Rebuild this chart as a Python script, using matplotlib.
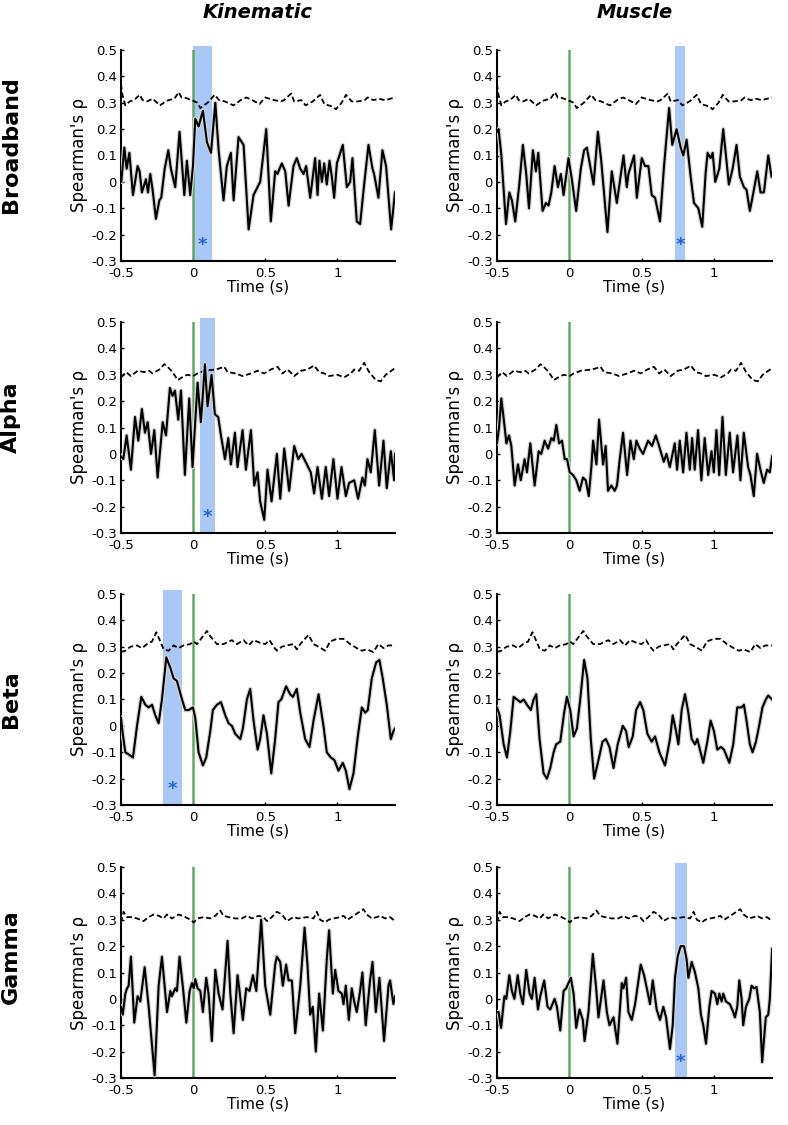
import numpy as np
import matplotlib
matplotlib.use("Agg")
import matplotlib.pyplot as plt

# ---- data ----
# significance-threshold curves, one per band (same for both columns)
bb_thr_t = [-0.50, -0.49, -0.47, -0.44, -0.41, -0.37, -0.35, -0.32, -0.28, -0.25, -0.23, -0.19, -0.17, -0.13,
            -0.10, -0.08, -0.06, -0.01, 0.03, 0.05, 0.10, 0.15, 0.18, 0.22, 0.28, 0.33, 0.37, 0.41, 0.46, 0.50,
            0.56, 0.61, 0.63, 0.68, 0.70, 0.75, 0.78, 0.83, 0.88, 0.91, 0.97, 0.99, 1.03, 1.06, 1.10, 1.14,
            1.19, 1.21, 1.25, 1.29, 1.33, 1.40]
bb_thr_r = [0.37, 0.33, 0.29, 0.305, 0.31, 0.33, 0.31, 0.305, 0.315, 0.30, 0.29, 0.305, 0.31, 0.315,
            0.34, 0.32, 0.32, 0.31, 0.30, 0.28, 0.30, 0.33, 0.31, 0.305, 0.29, 0.31, 0.32, 0.31, 0.295, 0.32,
            0.31, 0.305, 0.31, 0.335, 0.305, 0.31, 0.29, 0.305, 0.33, 0.295, 0.285, 0.275, 0.30, 0.33, 0.305, 0.305,
            0.31, 0.32, 0.31, 0.315, 0.31, 0.32]

al_thr_t = [-0.50, -0.465, -0.431, -0.385, -0.338, -0.304, -0.281, -0.234, -0.20, -0.177, -0.142, -0.107,
            -0.061, -0.038, 0.0, 0.031, 0.077, 0.158, 0.216, 0.239, 0.297, 0.343, 0.401, 0.447, 0.493, 0.539,
            0.585, 0.62, 0.655, 0.701, 0.747, 0.793, 0.839, 0.874, 0.909, 0.943, 1.001, 1.047, 1.094, 1.117,
            1.151, 1.186, 1.221, 1.267, 1.301, 1.336, 1.40]
al_thr_r = [0.29, 0.31, 0.295, 0.315, 0.31, 0.315, 0.305, 0.32, 0.34, 0.33, 0.31, 0.28,
            0.295, 0.30, 0.295, 0.305, 0.315, 0.32, 0.33, 0.31, 0.305, 0.295, 0.305, 0.315, 0.305, 0.32,
            0.33, 0.305, 0.32, 0.295, 0.315, 0.32, 0.335, 0.31, 0.305, 0.295, 0.30, 0.29, 0.305, 0.32,
            0.315, 0.345, 0.31, 0.28, 0.275, 0.30, 0.325]

be_thr_t = [-0.50, -0.47, -0.435, -0.389, -0.355, -0.32, -0.285, -0.255, -0.227, -0.204, -0.170, -0.135,
            -0.10, -0.066, -0.02, 0.004, 0.027, 0.096, 0.119, 0.165, 0.211, 0.269, 0.304, 0.350, 0.385, 0.419,
            0.465, 0.50, 0.53, 0.558, 0.581, 0.615, 0.65, 0.696, 0.719, 0.743, 0.80, 0.835, 0.87, 0.916, 0.95,
            0.997, 1.043, 1.089, 1.135, 1.17, 1.204, 1.25, 1.285, 1.32, 1.355, 1.40]
be_thr_r = [0.28, 0.285, 0.30, 0.305, 0.295, 0.31, 0.32, 0.355, 0.32, 0.29, 0.285, 0.305,
            0.295, 0.305, 0.31, 0.32, 0.31, 0.36, 0.34, 0.31, 0.31, 0.325, 0.31, 0.325, 0.305, 0.325,
            0.315, 0.31, 0.325, 0.30, 0.285, 0.30, 0.305, 0.31, 0.29, 0.31, 0.345, 0.31, 0.30, 0.285, 0.32,
            0.33, 0.33, 0.31, 0.295, 0.285, 0.29, 0.28, 0.31, 0.295, 0.305, 0.305]

ga_thr_t = [-0.50, -0.482, -0.458, -0.424, -0.389, -0.343, -0.308, -0.274, -0.239, -0.204, -0.181, -0.147,
            -0.10, -0.054, -0.018, 0.004, 0.031, 0.073, 0.119, 0.154, 0.188, 0.211, 0.246, 0.292, 0.338, 0.373,
            0.408, 0.454, 0.488, 0.512, 0.546, 0.581, 0.616, 0.65, 0.696, 0.731, 0.789, 0.835, 0.858, 0.881,
            0.916, 0.939, 0.973, 1.02, 1.043, 1.07, 1.112, 1.181, 1.204, 1.239, 1.274, 1.297, 1.331, 1.366, 1.40]
ga_thr_r = [0.29, 0.33, 0.31, 0.31, 0.305, 0.295, 0.31, 0.32, 0.315, 0.305, 0.32, 0.305,
            0.32, 0.31, 0.30, 0.29, 0.305, 0.31, 0.305, 0.315, 0.335, 0.315, 0.31, 0.305, 0.305, 0.315,
            0.305, 0.315, 0.31, 0.295, 0.31, 0.33, 0.32, 0.295, 0.31, 0.305, 0.31, 0.305, 0.33, 0.30,
            0.29, 0.30, 0.305, 0.31, 0.315, 0.30, 0.315, 0.34, 0.32, 0.305, 0.31, 0.315, 0.305, 0.31, 0.295]

# correlation time courses
bb_kin_t = [-0.498, -0.477, -0.461, -0.442, -0.417, -0.385, -0.371, -0.355, -0.327, -0.313, -0.297, -0.281,
            -0.258, -0.234, -0.221, -0.197, -0.172, -0.154, -0.124, -0.094, -0.061, -0.043, -0.020, -0.001,
            0.015, 0.038, 0.068, 0.096, 0.124, 0.154, 0.177, 0.211, 0.234, 0.262, 0.281, 0.315, 0.350, 0.385,
            0.419, 0.465, 0.507, 0.539, 0.569, 0.585, 0.615, 0.639, 0.662, 0.696, 0.719, 0.743, 0.766, 0.784,
            0.812, 0.846, 0.863, 0.876, 0.893, 0.909, 0.927, 0.946, 0.962, 0.978, 0.997, 1.038, 1.066, 1.089,
            1.105, 1.135, 1.158, 1.186, 1.216, 1.244, 1.255, 1.285, 1.313, 1.338, 1.373, 1.40]
bb_kin_r = [0.0, 0.13, 0.05, 0.11, -0.05, 0.06, 0.04, -0.04, 0.01, -0.04, 0.03, -0.03,
            -0.14, -0.07, -0.06, 0.05, 0.12, 0.05, -0.02, 0.19, -0.05, 0.08, -0.05, 0.06,
            0.24, 0.21, 0.27, 0.15, 0.11, 0.30, 0.12, -0.07, 0.06, 0.11, -0.07, 0.17, 0.14, -0.18,
            -0.05, 0.0, 0.20, -0.15, 0.04, 0.03, 0.07, 0.04, -0.09, 0.06, 0.09, 0.05, 0.03, 0.06,
            -0.06, 0.09, -0.05, 0.08, 0.0, 0.07, -0.01, 0.08, 0.02, -0.06, 0.07, 0.14, -0.02, 0.0,
            0.09, -0.15, -0.16, -0.01, 0.14, 0.05, 0.03, -0.06, 0.12, 0.06, -0.18, -0.04]

bb_mus_t = [-0.50, -0.489, -0.470, -0.438, -0.415, -0.397, -0.374, -0.346, -0.321, -0.298, -0.279, -0.252,
            -0.231, -0.215, -0.185, -0.162, -0.144, -0.125, -0.102, -0.079, -0.059, -0.040, -0.006, 0.017,
            0.047, 0.079, 0.102, 0.121, 0.144, 0.167, 0.197, 0.220, 0.236, 0.263, 0.293, 0.328, 0.374, 0.397,
            0.408, 0.447, 0.466, 0.500, 0.523, 0.546, 0.569, 0.592, 0.626, 0.654, 0.689, 0.711, 0.741, 0.769,
            0.787, 0.810, 0.838, 0.861, 0.891, 0.918, 0.941, 0.955, 0.976, 0.990, 1.008, 1.036, 1.063, 1.091,
            1.102, 1.128, 1.155, 1.178, 1.206, 1.224, 1.247, 1.275, 1.298, 1.321, 1.344, 1.374, 1.397]
bb_mus_r = [0.19, 0.20, 0.10, -0.16, -0.04, -0.07, -0.15, -0.01, 0.14, 0.03, -0.10, 0.12,
            0.04, 0.11, -0.11, -0.08, -0.09, -0.04, 0.06, -0.02, 0.03, -0.05, 0.09, 0.01,
            -0.11, 0.05, 0.12, 0.13, 0.06, -0.01, 0.19, 0.08, -0.02, -0.19, 0.04, -0.08, 0.10, -0.02,
            0.03, 0.10, -0.06, 0.09, 0.06, 0.06, -0.05, -0.06, -0.15, 0.06, 0.28, 0.14, 0.20, 0.13,
            0.10, 0.16, 0.02, -0.08, -0.10, -0.17, 0.03, 0.11, 0.09, 0.11, 0.0, 0.05, 0.20, 0.05,
            -0.01, 0.05, 0.14, 0.02, -0.02, -0.03, -0.11, -0.03, 0.04, -0.04, -0.04, 0.10, 0.02]

al_kin_t = [-0.500, -0.484, -0.461, -0.431, -0.403, -0.380, -0.355, -0.334, -0.315, -0.292, -0.269, -0.246,
            -0.211, -0.188, -0.161, -0.142, -0.126, -0.103, -0.084, -0.057, -0.027, -0.004, 0.031, 0.054,
            0.082, 0.100, 0.128, 0.151, 0.174, 0.193, 0.221, 0.244, 0.262, 0.290, 0.308, 0.343, 0.366, 0.401,
            0.424, 0.447, 0.465, 0.493, 0.516, 0.544, 0.581, 0.604, 0.632, 0.666, 0.701, 0.729, 0.752, 0.789,
            0.816, 0.839, 0.863, 0.893, 0.920, 0.943, 0.973, 1.001, 1.029, 1.059, 1.082, 1.117, 1.144, 1.174,
            1.191, 1.209, 1.232, 1.260, 1.290, 1.320, 1.343, 1.371, 1.394, 1.40]
al_kin_r = [-0.01, -0.02, 0.07, -0.06, 0.14, 0.05, 0.17, 0.08, 0.12, 0.0, 0.09, -0.09,
            0.12, 0.07, 0.25, 0.22, 0.24, 0.13, 0.24, -0.08, 0.21, -0.05, 0.27, 0.12,
            0.34, 0.18, 0.30, 0.15, 0.14, 0.07, -0.02, 0.06, -0.04, 0.08, -0.05, 0.09, -0.06, 0.09,
            -0.12, -0.07, -0.18, -0.25, -0.06, -0.18, 0.0, -0.17, 0.02, -0.14, 0.03, -0.02, 0.0, -0.04,
            -0.07, -0.15, -0.05, -0.17, -0.05, -0.16, -0.02, -0.17, -0.05, -0.16, -0.11, -0.10, -0.17, -0.09,
            -0.12, -0.02, -0.07, 0.09, -0.12, 0.05, -0.13, 0.01, -0.10, 0.0]

al_mus_t = [-0.500, -0.486, -0.470, -0.447, -0.435, -0.417, -0.401, -0.378, -0.355, -0.336, -0.309, -0.293,
            -0.270, -0.240, -0.212, -0.194, -0.171, -0.147, -0.124, -0.108, -0.090, -0.071, -0.051, -0.032,
            -0.016, 0.002, 0.025, 0.048, 0.071, 0.094, 0.113, 0.134, 0.152, 0.164, 0.187, 0.205, 0.233, 0.251,
            0.267, 0.290, 0.313, 0.329, 0.348, 0.371, 0.399, 0.422, 0.445, 0.463, 0.486, 0.509, 0.544, 0.571,
            0.597, 0.620, 0.652, 0.671, 0.694, 0.728, 0.744, 0.763, 0.786, 0.809, 0.832, 0.848, 0.866, 0.889,
            0.912, 0.935, 0.959, 0.982, 0.998, 1.016, 1.035, 1.058, 1.081, 1.108, 1.131, 1.161, 1.182, 1.205,
            1.235, 1.251, 1.274, 1.297, 1.320, 1.343, 1.366, 1.385, 1.401]
al_mus_r = [0.04, 0.10, 0.21, 0.10, 0.04, 0.07, 0.03, -0.12, -0.04, -0.10, -0.02, -0.07,
            0.04, -0.12, 0.01, 0.0, 0.05, 0.02, 0.06, 0.05, 0.11, 0.04, 0.05, -0.02,
            -0.02, -0.07, -0.08, -0.10, -0.14, -0.09, -0.10, -0.16, -0.05, 0.05, -0.04, 0.13, -0.04, 0.03,
            -0.14, -0.12, -0.14, -0.12, -0.02, 0.08, -0.08, 0.05, -0.02, 0.05, 0.02, 0.0, 0.05, 0.03,
            0.07, 0.03, -0.03, 0.0, -0.05, 0.04, -0.06, 0.05, -0.07, 0.08, -0.06, 0.06, -0.06, 0.09,
            -0.10, 0.06, -0.08, 0.01, -0.07, 0.09, -0.08, 0.14, -0.08, 0.08, -0.07, 0.07, -0.10, 0.08,
            -0.05, -0.08, -0.16, 0.0, -0.06, -0.11, -0.06, -0.07, -0.01]

be_kin_t = [-0.500, -0.488, -0.470, -0.442, -0.417, -0.389, -0.359, -0.331, -0.308, -0.285, -0.262, -0.239,
            -0.216, -0.186, -0.158, -0.135, -0.112, -0.077, -0.054, -0.031, -0.001, 0.015, 0.038, 0.068,
            0.091, 0.119, 0.137, 0.165, 0.193, 0.223, 0.246, 0.269, 0.292, 0.327, 0.345, 0.373, 0.396, 0.419,
            0.447, 0.465, 0.488, 0.512, 0.542, 0.569, 0.592, 0.611, 0.645, 0.673, 0.692, 0.719, 0.743, 0.777,
            0.807, 0.835, 0.870, 0.904, 0.927, 0.955, 0.980, 1.008, 1.038, 1.059, 1.084, 1.112, 1.142, 1.170,
            1.193, 1.211, 1.239, 1.269, 1.292, 1.315, 1.343, 1.371, 1.389, 1.40]
be_kin_r = [0.03, -0.03, -0.10, -0.11, -0.12, 0.0, 0.11, 0.08, 0.07, 0.08, 0.04, 0.01,
            0.10, 0.26, 0.22, 0.18, 0.17, 0.10, 0.06, 0.06, 0.07, 0.03, -0.10, -0.15,
            -0.12, -0.02, 0.06, 0.08, 0.09, 0.04, 0.01, 0.0, -0.03, -0.05, -0.01, 0.10, 0.14, 0.02,
            -0.09, -0.05, 0.04, -0.03, -0.18, -0.05, 0.09, 0.10, 0.15, 0.12, 0.11, 0.14, 0.05, -0.05,
            -0.08, 0.02, 0.12, 0.0, -0.10, -0.12, -0.13, -0.17, -0.14, -0.17, -0.24, -0.18, -0.04, 0.07,
            0.05, 0.06, 0.18, 0.24, 0.25, 0.18, 0.08, -0.05, -0.02, -0.01]

be_mus_t = [-0.500, -0.482, -0.454, -0.431, -0.408, -0.385, -0.362, -0.339, -0.316, -0.293, -0.266, -0.247,
            -0.229, -0.206, -0.178, -0.155, -0.132, -0.109, -0.091, -0.063, -0.036, -0.017, 0.006, 0.029,
            0.052, 0.075, 0.102, 0.125, 0.148, 0.171, 0.201, 0.229, 0.252, 0.277, 0.305, 0.334, 0.369, 0.392,
            0.410, 0.438, 0.461, 0.489, 0.511, 0.539, 0.569, 0.592, 0.622, 0.661, 0.695, 0.714, 0.737, 0.753,
            0.776, 0.799, 0.822, 0.845, 0.868, 0.884, 0.902, 0.925, 0.953, 0.976, 0.999, 1.022, 1.047, 1.068,
            1.105, 1.132, 1.160, 1.190, 1.206, 1.224, 1.247, 1.266, 1.289, 1.311, 1.334, 1.357, 1.374, 1.401]
be_mus_r = [0.07, 0.04, -0.07, -0.12, -0.02, 0.11, 0.10, 0.09, 0.10, 0.08, 0.06, 0.10,
            0.12, -0.05, -0.18, -0.20, -0.16, -0.10, -0.07, -0.06, 0.05, 0.11, 0.06, -0.04,
            -0.01, 0.10, 0.25, 0.18, -0.05, -0.20, -0.13, -0.06, -0.05, -0.08, -0.16, -0.07, 0.0, -0.02,
            -0.08, -0.04, 0.06, 0.09, 0.06, -0.03, -0.06, -0.04, -0.10, -0.15, -0.05, 0.04, -0.02, -0.07,
            0.06, 0.12, 0.05, -0.05, -0.07, -0.05, -0.09, -0.14, -0.06, 0.02, -0.02, -0.09, -0.08, -0.09,
            -0.14, -0.07, 0.07, 0.07, 0.08, 0.02, -0.07, -0.10, -0.06, 0.0, 0.07, 0.10, 0.115, 0.10]

ga_kin_t = [-0.500, -0.488, -0.470, -0.458, -0.447, -0.431, -0.408, -0.385, -0.366, -0.336, -0.308, -0.267,
            -0.239, -0.216, -0.181, -0.158, -0.147, -0.124, -0.112, -0.094, -0.070, -0.047, -0.024, -0.008,
            0.004, 0.015, 0.031, 0.050, 0.068, 0.091, 0.107, 0.130, 0.154, 0.177, 0.204, 0.239, 0.258, 0.281,
            0.308, 0.322, 0.345, 0.368, 0.391, 0.415, 0.438, 0.472, 0.500, 0.535, 0.569, 0.581, 0.604, 0.622,
            0.645, 0.662, 0.685, 0.708, 0.743, 0.773, 0.793, 0.812, 0.830, 0.851, 0.874, 0.900, 0.927, 0.943,
            0.969, 0.985, 1.008, 1.031, 1.043, 1.059, 1.080, 1.100, 1.117, 1.135, 1.158, 1.174, 1.197, 1.227,
            1.244, 1.267, 1.292, 1.324, 1.355, 1.366, 1.389, 1.401]
ga_kin_r = [-0.03, -0.06, 0.02, 0.04, 0.05, 0.16, -0.09, 0.01, -0.01, 0.12, -0.03, -0.29,
            0.05, 0.16, -0.05, 0.03, 0.01, 0.04, 0.03, 0.16, 0.04, -0.09, 0.03, 0.06,
            0.04, 0.075, 0.04, 0.03, -0.05, 0.08, 0.02, -0.16, 0.11, 0.02, -0.04, 0.22, 0.02, -0.13,
            0.09, 0.03, -0.08, 0.04, 0.03, 0.09, 0.03, 0.30, 0.05, -0.06, 0.13, 0.16, 0.14, 0.05,
            0.13, 0.07, 0.07, -0.13, 0.05, 0.27, 0.13, -0.06, -0.03, -0.20, 0.02, -0.12, 0.15, 0.26,
            0.02, 0.11, 0.03, 0.02, -0.02, 0.05, -0.08, 0.04, -0.01, -0.05, 0.03, 0.10, -0.10, 0.07,
            0.14, -0.05, 0.08, -0.16, 0.05, 0.07, -0.02, 0.01]

ga_mus_t = [-0.500, -0.489, -0.472, -0.449, -0.436, -0.415, -0.397, -0.380, -0.357, -0.339, -0.321, -0.298,
            -0.275, -0.259, -0.240, -0.217, -0.201, -0.174, -0.151, -0.132, -0.102, -0.086, -0.063, -0.040,
            -0.022, 0.010, 0.029, 0.047, 0.070, 0.093, 0.105, 0.132, 0.162, 0.185, 0.201, 0.236, 0.259, 0.277,
            0.305, 0.332, 0.362, 0.374, 0.392, 0.408, 0.431, 0.454, 0.493, 0.516, 0.539, 0.557, 0.576, 0.603,
            0.626, 0.649, 0.668, 0.695, 0.714, 0.730, 0.748, 0.769, 0.792, 0.810, 0.822, 0.845, 0.868, 0.891,
            0.909, 0.925, 0.944, 0.967, 0.983, 1.006, 1.022, 1.036, 1.052, 1.063, 1.082, 1.109, 1.132, 1.144,
            1.160, 1.174, 1.190, 1.201, 1.220, 1.243, 1.259, 1.275, 1.293, 1.316, 1.332, 1.357, 1.374, 1.385,
            1.401]
ga_mus_r = [-0.05, -0.05, -0.11, 0.01, 0.0, 0.09, 0.03, 0.0, 0.09, 0.02, -0.02, 0.11,
            0.02, 0.0, 0.08, -0.04, 0.01, 0.07, -0.03, -0.04, 0.0, -0.03, -0.12, 0.03,
            0.04, 0.08, 0.02, -0.11, -0.04, -0.08, -0.16, -0.05, 0.17, 0.04, -0.07, 0.07, -0.05, -0.10,
            -0.07, -0.17, 0.06, 0.04, 0.08, -0.05, -0.08, -0.02, 0.13, 0.09, 0.03, -0.02, 0.07, -0.04,
            -0.08, -0.03, -0.07, -0.19, -0.10, 0.08, 0.16, 0.20, 0.20, 0.15, 0.08, 0.14, 0.10, 0.04,
            -0.06, -0.10, -0.17, -0.03, 0.03, 0.02, -0.02, 0.02, -0.01, 0.02, -0.01, -0.02, -0.05, -0.07,
            -0.03, 0.07, 0.0, -0.10, -0.03, 0.0, 0.05, 0.04, 0.045, -0.05, -0.24, -0.07, -0.06, 0.0,
            0.19]

bands = ['Broadband', 'Alpha', 'Beta', 'Gamma']
columns = ['Kinematic', 'Muscle']

thresholds = [(bb_thr_t, bb_thr_r), (al_thr_t, al_thr_r), (be_thr_t, be_thr_r), (ga_thr_t, ga_thr_r)]
series = [[(bb_kin_t, bb_kin_r), (bb_mus_t, bb_mus_r)],
          [(al_kin_t, al_kin_r), (al_mus_t, al_mus_r)],
          [(be_kin_t, be_kin_r), (be_mus_t, be_mus_r)],
          [(ga_kin_t, ga_kin_r), (ga_mus_t, ga_mus_r)]]

# significant windows (start, end) per panel, None = no window
sig_windows = [[(0.0, 0.13), (0.73, 0.80)],
               [(0.048, 0.15), None],
               [(-0.21, -0.077), None],
               [None, (0.73, 0.81)]]

yticks = [-0.3, -0.2, -0.1, 0, 0.1, 0.2, 0.3, 0.4, 0.5]
ytick_labels = ['-0.3', '-0.2', '-0.1', '0', '0.1', '0.2', '0.3', '0.4', '0.5']
xticks = [-0.5, 0, 0.5, 1]
xtick_labels = ['-0.5', '0', '0.5', '1']

# ---- figure ----
W, H = 788, 1125
fig = plt.figure(figsize=(W / 100, H / 100), dpi=100)

col_left = [121, 497]
col_width = [274, 275]
row_top = [50, 322, 594, 867]
ax_h = 211

green = '#62a862'
blue_fill = '#aac8f5'
blue_star = '#2166d4'

for r in range(4):
    for c in range(2):
        ax = fig.add_axes([col_left[c] / W, 1 - (row_top[r] + ax_h) / H,
                           col_width[c] / W, ax_h / H])
        win = sig_windows[r][c]
        if win is not None:
            ax.axvspan(win[0], win[1], ymax=1.02, color=blue_fill, lw=0, zorder=1, clip_on=False)
            ax.text((win[0] + win[1]) / 2, -0.24, '*', color=blue_star, fontsize=13,
                    fontweight='bold', ha='center', va='center', zorder=5)
        ax.axvline(0, color=green, lw=1.8, zorder=2)

        tt, tr = thresholds[r]
        ax.plot(tt, tr, color='black', lw=1.3, ls=(0, (3, 1.6)), zorder=3)

        t, y = series[r][c]
        ax.plot(t, y, color='#d4d4d4', lw=3.2, solid_joinstyle='round', zorder=3)
        ax.plot(t, y, color='black', lw=1.5, solid_joinstyle='round', zorder=4)

        ax.set_xlim(-0.5, 1.4)
        ax.set_ylim(-0.3, 0.5)
        ax.set_yticks(yticks)
        ax.set_yticklabels(ytick_labels)
        ax.set_xticks(xticks)
        ax.set_xticklabels(xtick_labels)
        ax.tick_params(axis='y', labelsize=9.5, length=2, direction='in', width=1, pad=3)
        ax.tick_params(axis='x', labelsize=9.5, length=2, direction='in', width=1, pad=4)
        for s in ['top', 'right']:
            ax.spines[s].set_visible(False)
        for s in ['left', 'bottom']:
            ax.spines[s].set_linewidth(1.5)
        ax.set_ylabel("Spearman's ρ", fontsize=12, labelpad=2)
        ax.set_xlabel('Time (s)', fontsize=11, labelpad=0)

        if r == 0:
            fig.text((col_left[c] + col_width[c] / 2) / W, 1 - 13 / H, columns[c],
                     fontsize=14, fontweight='bold', fontstyle='italic', ha='center', va='center')

# band labels on the left
label_y = [145, 417, 699, 957]
for r in range(4):
    fig.text(11 / W, 1 - label_y[r] / H, bands[r], rotation=90, fontsize=16,
             fontweight='bold', ha='center', va='center')

fig.savefig('out.png', dpi=100)
